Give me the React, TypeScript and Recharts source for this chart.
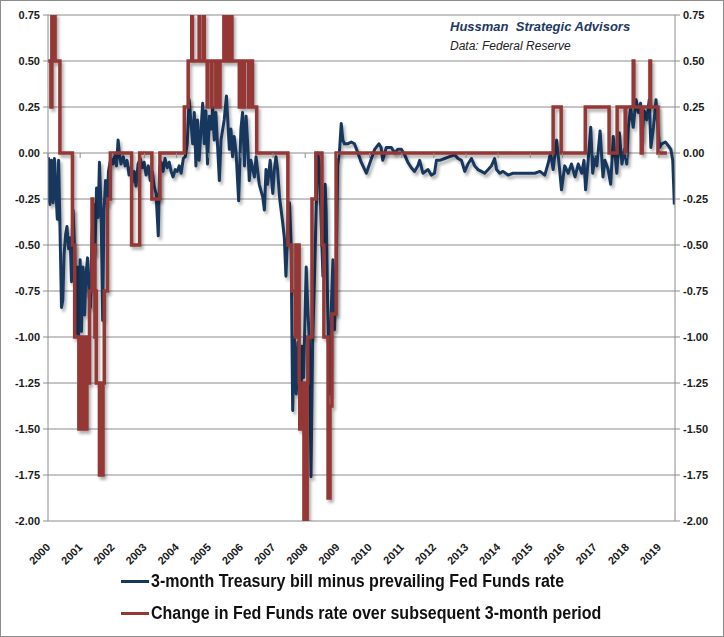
import { LineChart, Line, XAxis, YAxis, CartesianGrid } from 'recharts'

// year ticks along the bottom
const years = [2000, 2001, 2002, 2003, 2004, 2005, 2006, 2007, 2008, 2009, 2010, 2011, 2012, 2013, 2014, 2015, 2016, 2017, 2018, 2019]
const yTicks = [0.75, 0.5, 0.25, 0, -0.25, -0.5, -0.75, -1, -1.25, -1.5, -1.75, -2]

// 3-month T-bill minus prevailing Fed Funds rate (decimal year, spread)
const billT = [
    2000.00, 2000.02, 2000.06, 2000.11, 2000.16, 2000.20, 2000.25, 2000.29, 2000.33, 2000.37,
    2000.42, 2000.46, 2000.50, 2000.55, 2000.59, 2000.64, 2000.69, 2000.73, 2000.78, 2000.83,
    2000.87, 2000.91, 2000.95, 2001.00, 2001.04, 2001.09, 2001.14, 2001.18, 2001.23, 2001.28,
    2001.32, 2001.37, 2001.42, 2001.46, 2001.51, 2001.56, 2001.60, 2001.65, 2001.70, 2001.74,
    2001.79, 2001.84, 2001.88, 2001.93, 2001.98,
    2002.02, 2002.09, 2002.13, 2002.18, 2002.23, 2002.27, 2002.34, 2002.40, 2002.46, 2002.52,
    2002.57, 2002.62, 2002.68, 2002.74, 2002.80, 2002.87, 2002.93, 2002.99, 2003.05, 2003.12,
    2003.18, 2003.24, 2003.30, 2003.36, 2003.43, 2003.47, 2003.52, 2003.58, 2003.64, 2003.71,
    2003.77, 2003.83, 2003.89, 2003.96, 2004.02, 2004.08, 2004.14, 2004.21, 2004.27, 2004.33,
    2004.39, 2004.50, 2004.55, 2004.60, 2004.65, 2004.70, 2004.81, 2004.86, 2004.91, 2004.96,
    2005.02, 2005.07, 2005.12, 2005.17, 2005.22, 2005.33, 2005.38, 2005.48, 2005.55, 2005.64,
    2005.69, 2005.74, 2005.79, 2005.85, 2005.93, 2006.00, 2006.05, 2006.11, 2006.16, 2006.21,
    2006.26, 2006.31, 2006.42, 2006.47, 2006.57, 2006.68, 2006.73, 2006.78, 2006.83, 2006.91,
    2006.99, 2007.04, 2007.09,
    2007.14, 2007.20, 2007.25, 2007.30, 2007.35, 2007.40, 2007.44, 2007.51, 2007.56, 2007.61,
    2007.66, 2007.72, 2007.77, 2007.85, 2007.90, 2007.95, 2008.03, 2008.08, 2008.13, 2008.18,
    2008.23, 2008.29, 2008.34, 2008.39, 2008.44, 2008.50, 2008.55, 2008.62, 2008.65, 2008.70,
    2008.75, 2008.81, 2008.86, 2008.91, 2008.96, 2009.01, 2009.07, 2009.12, 2009.17, 2009.22,
    2009.32, 2009.43, 2009.53, 2009.64, 2009.74, 2009.90, 2010.00, 2010.16, 2010.29, 2010.36,
    2010.41, 2010.52, 2010.68, 2010.78, 2010.88, 2010.99, 2011.09, 2011.19, 2011.30, 2011.40,
    2011.50, 2011.56, 2011.66, 2011.82, 2011.92, 2012.02, 2012.08, 2012.18, 2012.34, 2012.49,
    2012.65, 2012.75, 2012.86, 2012.96, 2013.06, 2013.17, 2013.27, 2013.37, 2013.48, 2013.58,
    2013.69, 2013.79, 2013.89, 2013.95, 2014.05, 2014.15, 2014.31, 2014.46, 2014.62, 2014.78,
    2014.98, 2015.14, 2015.30,
    2015.45, 2015.55, 2015.63, 2015.71, 2015.82, 2015.90, 2015.97, 2016.07, 2016.18, 2016.28,
    2016.39, 2016.49, 2016.60, 2016.67, 2016.72, 2016.80, 2016.88, 2016.94, 2017.01, 2017.07,
    2017.17, 2017.26, 2017.32, 2017.42, 2017.50, 2017.58, 2017.69, 2017.77, 2017.85, 2017.93,
    2018.00, 2018.05, 2018.12, 2018.20, 2018.29, 2018.36, 2018.43, 2018.46, 2018.54, 2018.62,
    2018.70, 2018.75, 2018.83, 2018.91, 2018.95, 2019.02, 2019.09, 2019.20, 2019.29, 2019.37,
    2019.43, 2019.48,
]
const billSpread = [
    -0.27, -0.03, -0.28, -0.04, -0.27, -0.03, -0.22, -0.36, -0.04, -0.38,
    -0.84, -0.80, -0.55, -0.44, -0.40, -0.52, -0.46, -0.70, -0.31, -0.55,
    -0.98, -0.62, -0.99, -0.58, -0.97, -0.62, -0.88, -0.66, -0.57, -0.78,
    -0.84, -0.45, -0.28, -0.55, -0.19, -0.35, -0.05, -0.30, -0.91, -0.32,
    -0.15, -0.28, -0.10, -0.05, -0.02,
    -0.06, -0.01, -0.07, 0.07, -0.02, -0.06, -0.02, -0.07, -0.04, -0.12,
    -0.08, -0.16, -0.10, -0.18, -0.06, -0.03, -0.08, -0.05, -0.12, -0.07,
    -0.15, -0.10, -0.18, -0.22, -0.45, -0.08, -0.05, -0.10, -0.03, -0.08,
    -0.05, -0.10, -0.13, -0.09, -0.10, -0.07, -0.11, -0.03, -0.02, 0.05,
    0.29, 0.05, 0.22, -0.07, 0.18, -0.04, 0.27, 0.05, 0.23, -0.06,
    0.20, 0.13, 0.25, 0.07, 0.22, -0.15, 0.07, 0.18, 0.31, 0.02,
    0.13, -0.02, 0.09, 0.00, -0.26, 0.13, 0.22, -0.07, 0.20, 0.05,
    -0.15, -0.04, -0.13, -0.02, -0.17, -0.24, -0.31, -0.09, -0.17, -0.04,
    -0.22, -0.09, -0.02,
    -0.09, -0.24, -0.31, -0.38, -0.46, -0.67, -0.49, -0.27, -0.49, -1.40,
    -1.00, -1.31, -1.03, -1.45, -1.05, -1.22, -0.62, -0.85, -1.03, -1.76,
    -1.03, -0.67, -0.31, 0.00, -0.06, -0.40, -0.67, -0.17, -0.31, -0.85,
    -1.31, -0.85, -0.58, -0.96, -0.67, -0.07, 0.02, 0.16, 0.07, 0.05,
    0.05, 0.06, 0.05, 0.00, -0.05, -0.11, -0.06, 0.02, 0.05, 0.03,
    -0.04, 0.03, 0.03, 0.00, 0.02, 0.02, -0.01, -0.05, -0.08, -0.10,
    -0.07, -0.04, -0.11, -0.09, -0.12, -0.11, -0.04, -0.04, -0.03, -0.02,
    -0.01, -0.03, -0.04, -0.10, -0.06, -0.03, -0.07, -0.09, -0.10, -0.11,
    -0.09, -0.07, -0.03, -0.09, -0.11, -0.10, -0.12, -0.11, -0.11, -0.11,
    -0.11, -0.11, -0.10,
    -0.12, -0.06, 0.00, -0.09, 0.07, -0.07, -0.20, -0.07, -0.11, -0.06,
    -0.13, -0.06, -0.11, -0.04, -0.20, -0.04, 0.14, -0.11, -0.02, -0.07,
    0.12, -0.13, -0.04, -0.09, -0.17, 0.09, -0.11, 0.11, -0.06, 0.02,
    -0.06, 0.14, 0.25, 0.14, 0.29, 0.22, 0.27, 0.07, 0.23, 0.18,
    0.29, 0.03, 0.14, 0.29, 0.18, 0.03, 0.05, 0.06, 0.04, 0.02,
    -0.04, -0.28,
]

// change in Fed Funds rate over the next 3 months (step points)
const changeT = [
    2000.00, 2000.09, 2000.12, 2000.22, 2000.37, 2000.76, 2000.83, 2000.96, 2001.01, 2001.04,
    2001.08, 2001.12, 2001.21, 2001.24, 2001.29, 2001.37, 2001.39, 2001.46, 2001.49, 2001.50,
    2001.60, 2001.64, 2001.69, 2001.71, 2001.75, 2001.85, 2001.94, 2002.60, 2002.85, 2003.23,
    2003.48, 2004.24, 2004.36, 2004.47, 2004.49, 2004.70, 2004.72, 2004.84, 2004.86, 2004.95,
    2004.97, 2005.09, 2005.10, 2005.22, 2005.24, 2005.34, 2005.35, 2005.47, 2005.49, 2005.58,
    2005.60, 2005.70, 2005.72, 2005.95, 2005.99, 2006.08, 2006.11, 2006.24, 2006.25, 2006.36,
    2006.49, 2007.46, 2007.58, 2007.69, 2007.71, 2007.81, 2007.83, 2007.94, 2007.96, 2008.06,
    2008.08, 2008.21, 2008.33, 2008.52, 2008.58, 2008.71, 2008.77, 2008.83, 2008.96, 2015.71,
    2015.96, 2016.71, 2017.45, 2017.70, 2017.95, 2017.97, 2018.20, 2018.22, 2018.45, 2018.48,
    2018.72, 2018.74, 2018.97, 2019.25,
]
const changeVal = [
    0.50, 0.25, 0.75, 0.50, 0.00, -0.50, -1.00, -1.50, -1.00, -1.50,
    -1.00, -1.50, -1.00, -1.25, -0.75, -0.25, -0.50, -1.00, -0.75, -1.25,
    -1.75, -1.50, -1.75, -1.25, -0.75, -0.25, 0.00, -0.50, 0.00, -0.25,
    0.00, 0.25, 0.50, 0.75, 0.50, 0.75, 0.50, 0.75, 0.50, 0.25,
    0.50, 0.25, 0.50, 0.25, 0.50, 0.25, 0.50, 0.75, 0.50, 0.75,
    0.50, 0.75, 0.50, 0.25, 0.50, 0.25, 0.50, 0.25, 0.50, 0.25,
    0.00, -0.50, -0.75, -1.00, -0.50, -1.25, -1.50, -1.25, -2.00, -1.25,
    -1.00, -0.25, 0.00, -0.50, -1.00, -1.875, -1.375, -0.875, 0.00, 0.25,
    0.00, 0.25, 0.00, 0.25, 0.00, 0.25, 0.50, 0.25, 0.00, 0.25,
    0.50, 0.25, 0.00, 0.00,
]

const billData = billT.map((t, i) => ({ t, v: billSpread[i] }))
const changeData = changeT.map((t, i) => ({ t, v: changeVal[i] }))

const BLUE = '#17375e'
const RED = '#953735'
const GRID = '#8c8c8c'
const LABEL_FONT = "'Liberation Sans', Arial, sans-serif"

// pixel distance from the bottom axis up to the zero line (Excel draws the
// category axis at 0, the labels stay at the bottom)
const ZERO_ABOVE_BOTTOM = 368

const YearTick = ({ x, y, payload }: any) => {
    const ax = x + 3
    const ay = y + 19
    return (
        <g>
            <line x1={x} x2={x} y1={y - 8 - ZERO_ABOVE_BOTTOM} y2={y - 3 - ZERO_ABOVE_BOTTOM} stroke={GRID} />
            <text
                x={ax}
                y={ay}
                transform={`rotate(-45 ${ax} ${ay})`}
                textAnchor="end"
                fontSize={11}
                fontWeight="bold"
                fontFamily={LABEL_FONT}
                fill="#1a1a1a"
            >
                {payload.value}
            </text>
        </g>
    )
}

const fmt = (v: number) => v.toFixed(2)

const legendItems = [
    { label: '3-month Treasury bill minus prevailing Fed Funds rate', color: BLUE, top: 571 },
    { label: 'Change in Fed Funds rate over subsequent 3-month period', color: RED, top: 603 },
]

export default function App() {
    return (
        <div style={{ position: 'relative', width: 724, height: 637, background: '#fff' }}>
            <style>{`
                body { margin: 0; }
                .recharts-line-curve { filter: drop-shadow(2px 3px 1.5px rgba(0,0,0,0.32)); }
            `}</style>
            <div style={{
                position: 'absolute', left: 0, top: 0, width: 724, height: 637,
                boxSizing: 'border-box', border: '1px solid #8c8c8c', pointerEvents: 'none'
            }} />
            <LineChart width={724} height={637} margin={{ top: 15, right: 0, left: 0, bottom: 0 }}>
                <CartesianGrid vertical={false} stroke={GRID} strokeWidth={1} />
                <XAxis
                    dataKey="t"
                    type="number"
                    domain={[2000, 2019.5]}
                    ticks={years}
                    interval={0}
                    height={116}
                    axisLine={false}
                    tickLine={false}
                    tick={<YearTick />}
                    allowDataOverflow
                />
                <YAxis
                    domain={[-2, 0.75]}
                    ticks={yTicks}
                    interval={0}
                    width={48}
                    allowDataOverflow
                    tickFormatter={fmt}
                    axisLine={{ stroke: GRID }}
                    tickLine={{ stroke: GRID }}
                    tickSize={5}
                    tickMargin={3}
                    tick={{ fontSize: 11, fontWeight: 'bold', fill: '#1a1a1a', fontFamily: LABEL_FONT }}
                />
                <YAxis
                    yAxisId="r"
                    orientation="right"
                    domain={[-2, 0.75]}
                    ticks={yTicks}
                    interval={0}
                    width={49}
                    allowDataOverflow
                    tickFormatter={fmt}
                    axisLine={{ stroke: GRID }}
                    tickLine={{ stroke: GRID }}
                    tickSize={5}
                    tickMargin={3}
                    tick={{ fontSize: 11, fontWeight: 'bold', fill: '#1a1a1a', fontFamily: LABEL_FONT }}
                />
                <Line
                    data={billData}
                    dataKey="v"
                    type="linear"
                    stroke={BLUE}
                    strokeWidth={3}
                    dot={false}
                    isAnimationActive={false}
                    strokeLinejoin="round"
                />
                <Line
                    data={changeData}
                    dataKey="v"
                    type="stepAfter"
                    stroke={RED}
                    strokeWidth={3.5}
                    dot={false}
                    isAnimationActive={false}
                />
            </LineChart>

            <div style={{ position: 'absolute', left: 450, top: 19, fontFamily: LABEL_FONT, fontSize: 13, fontWeight: 'bold', fontStyle: 'italic', color: '#1f3864', whiteSpace: 'pre' }}>
                Hussman  Strategic Advisors
            </div>
            <div style={{ position: 'absolute', left: 450, top: 39, fontFamily: LABEL_FONT, fontSize: 12, fontStyle: 'italic', color: '#222', whiteSpace: 'nowrap' }}>
                Data: Federal Reserve
            </div>

            {/* legend */}
            {legendItems.map(item => (
                <div key={item.label} style={{ position: 'absolute', left: 121, top: item.top, height: 20, display: 'flex', alignItems: 'center' }}>
                    <div style={{ width: 28, height: 3, background: item.color, marginRight: 2 }} />
                    <span style={{
                        display: 'inline-block', fontFamily: LABEL_FONT, fontSize: 18, fontWeight: 'bold', color: '#111',
                        whiteSpace: 'nowrap', transform: 'scaleX(0.89)', transformOrigin: 'left center'
                    }}>
                        {item.label}
                    </span>
                </div>
            ))}
        </div>
    )
}
